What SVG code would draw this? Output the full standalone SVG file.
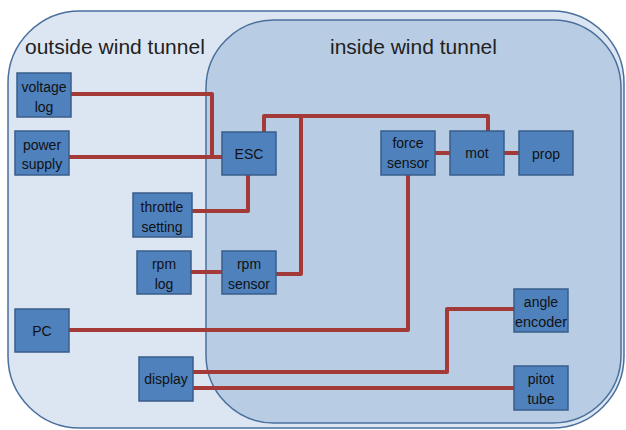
<svg xmlns="http://www.w3.org/2000/svg" width="626" height="430" viewBox="0 0 626 430">
<style>
.node{fill:#4f81bd;stroke:#385d8a;stroke-width:1.5}
.t{font-family:"Liberation Sans",Arial,sans-serif;font-size:14px;fill:#111;text-anchor:middle}
.title{font-family:"Liberation Sans",Arial,sans-serif;font-size:21px;fill:#222}
.wire{fill:none;stroke:#a33a38;stroke-width:4;stroke-linejoin:round}
</style>
<rect width="626" height="430" fill="#ffffff"/>
<g id="outside">
<rect x="8" y="11" width="616" height="417" rx="72" ry="72" fill="#dce6f2" stroke="#4a6f9c" stroke-width="1.5"/>
<text class="title" x="25" y="54">outside wind tunnel</text>
</g>
<g id="inside">
<rect x="206" y="20" width="415" height="403" rx="68" ry="68" fill="#b8cce4" stroke="#4a6f9c" stroke-width="1.5"/>
<text class="title" x="330" y="54">inside wind tunnel</text>
</g>
<g id="connectors">
<polyline class="wire" points="71,94 212,94 212,157"/>
<polyline class="wire" points="69,157 222,157"/>
<polyline class="wire" points="264,132 264,116 488,116 488,131"/>
<polyline class="wire" points="301,116 301,274 276,274"/>
<polyline class="wire" points="248,175 248,211 192,211"/>
<polyline class="wire" points="191,272 222,272"/>
<polyline class="wire" points="435,153 450,153"/>
<polyline class="wire" points="504,153 519,153"/>
<polyline class="wire" points="408,175 408,330 69,330"/>
<polyline class="wire" points="193,372 447,372 447,309 514,309"/>
<polyline class="wire" points="193,388 514,388"/>
</g>
<g id="voltage-log"><rect class="node" x="17" y="73" width="54" height="44"/><text class="t" x="44" y="92">voltage</text><text class="t" x="44" y="112">log</text></g>
<g id="power-supply"><rect class="node" x="15" y="131" width="54" height="44"/><text class="t" x="42" y="150">power</text><text class="t" x="42" y="169">supply</text></g>
<g id="esc"><rect class="node" x="222" y="132" width="54" height="43"/><text class="t" x="249" y="159">ESC</text></g>
<g id="throttle-setting"><rect class="node" x="133" y="193" width="59" height="44"/><text class="t" x="162" y="212">throttle</text><text class="t" x="162" y="232">setting</text></g>
<g id="rpm-log"><rect class="node" x="137" y="251" width="54" height="43"/><text class="t" x="164" y="269">rpm</text><text class="t" x="164" y="289">log</text></g>
<g id="rpm-sensor"><rect class="node" x="222" y="251" width="54" height="43"/><text class="t" x="249" y="269">rpm</text><text class="t" x="249" y="289">sensor</text></g>
<g id="pc"><rect class="node" x="15" y="309" width="54" height="43"/><text class="t" x="42" y="336">PC</text></g>
<g id="display"><rect class="node" x="139" y="357" width="54" height="44"/><text class="t" x="166" y="384">display</text></g>
<g id="force-sensor"><rect class="node" x="381" y="131" width="54" height="44"/><text class="t" x="408" y="148">force</text><text class="t" x="408" y="168">sensor</text></g>
<g id="mot"><rect class="node" x="450" y="131" width="54" height="44"/><text class="t" x="477" y="158">mot</text></g>
<g id="prop"><rect class="node" x="519" y="131" width="54" height="44"/><text class="t" x="546" y="159">prop</text></g>
<g id="angle-encoder"><rect class="node" x="514" y="289" width="54" height="43"/><text class="t" x="541" y="307">angle</text><text class="t" x="541" y="327" textLength="52" lengthAdjust="spacingAndGlyphs">encoder</text></g>
<g id="pitot-tube"><rect class="node" x="514" y="366" width="54" height="44"/><text class="t" x="541" y="384">pitot</text><text class="t" x="541" y="404">tube</text></g>
</svg>
